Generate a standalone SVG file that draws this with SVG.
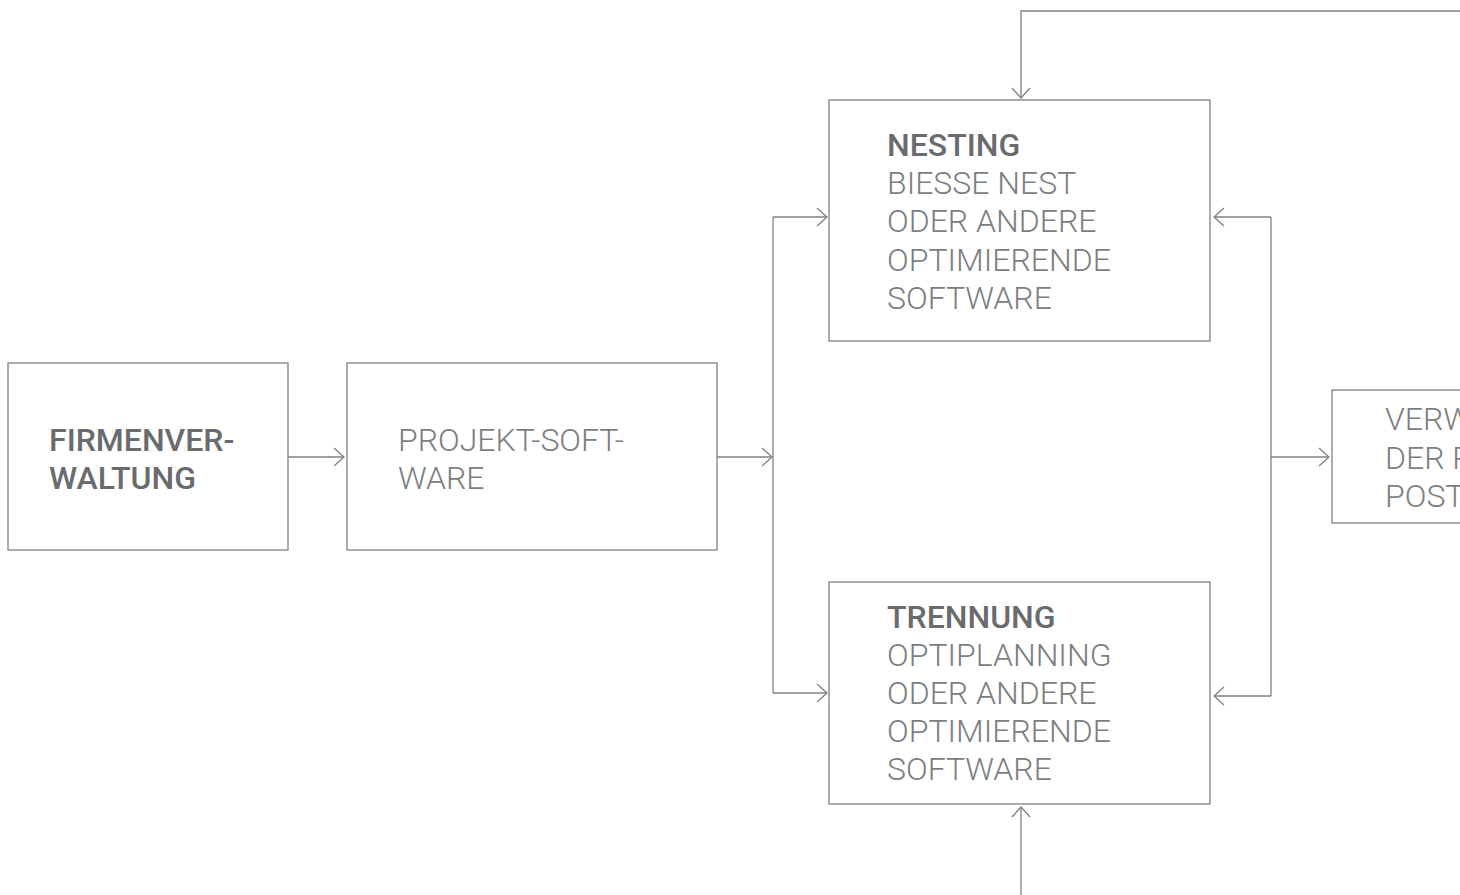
<svg xmlns="http://www.w3.org/2000/svg" width="1460" height="895" viewBox="0 0 1460 895">
<defs>
<style>
.box{fill:#fff;stroke:#808083;stroke-width:1.3}
.ln{fill:none;stroke:#808083;stroke-width:1.3}
.t{font-family:Roboto,"Liberation Sans",sans-serif;font-size:32px;font-weight:300;fill:#7d7e81}
.h{font-family:Roboto,"Liberation Sans",sans-serif;font-size:32px;font-weight:500;fill:#6a6b6e}
</style>
<marker id="ah" viewBox="0 0 12 20" markerWidth="12" markerHeight="20" refX="11" refY="10" orient="auto" markerUnits="userSpaceOnUse">
<path d="M1,1 L11,10 L1,19" fill="none" stroke="#808083" stroke-width="1.3"/>
</marker>
</defs>
<rect width="1460" height="895" fill="#fff"/>
<g id="connectors">
<line class="ln" x1="288" y1="457" x2="344" y2="457" marker-end="url(#ah)"/>
<line class="ln" x1="717" y1="457" x2="772" y2="457" marker-end="url(#ah)"/>
<polyline class="ln" points="773,217 773,693"/>
<line class="ln" x1="773" y1="217" x2="827" y2="217" marker-end="url(#ah)"/>
<line class="ln" x1="773" y1="693" x2="827" y2="693" marker-end="url(#ah)"/>
<polyline class="ln" points="1271,217 1271,696"/>
<line class="ln" x1="1271" y1="217" x2="1214" y2="217" marker-end="url(#ah)"/>
<line class="ln" x1="1271" y1="696" x2="1214" y2="696" marker-end="url(#ah)"/>
<line class="ln" x1="1271" y1="457" x2="1329" y2="457" marker-end="url(#ah)"/>
<polyline class="ln" points="1460,11 1021,11 1021,98" marker-end="url(#ah)"/>
<line class="ln" x1="1021" y1="895" x2="1021" y2="807" marker-end="url(#ah)"/>
</g>
<g id="firmenverwaltung">
<rect class="box" x="8" y="363" width="280" height="187"/>
<text class="h" x="49" y="451">FIRMENVER-</text>
<text class="h" x="49" y="489">WALTUNG</text>
</g>
<g id="projekt-software">
<rect class="box" x="347" y="363" width="370" height="187"/>
<text class="t" x="398" y="451">PROJEKT-SOFT-</text>
<text class="t" x="398" y="489">WARE</text>
</g>
<g id="nesting">
<rect class="box" x="829" y="100" width="381" height="241"/>
<text class="h" x="887" y="156">NESTING</text>
<text class="t" x="887" y="194">BIESSE NEST</text>
<text class="t" x="887" y="232">ODER ANDERE</text>
<text class="t" x="887" y="271">OPTIMIERENDE</text>
<text class="t" x="887" y="309">SOFTWARE</text>
</g>
<g id="trennung">
<rect class="box" x="829" y="582" width="381" height="222"/>
<text class="h" x="887" y="628">TRENNUNG</text>
<text class="t" x="887" y="666">OPTIPLANNING</text>
<text class="t" x="887" y="704">ODER ANDERE</text>
<text class="t" x="887" y="742">OPTIMIERENDE</text>
<text class="t" x="887" y="780">SOFTWARE</text>
</g>
<g id="verwaltung">
<rect class="box" x="1332" y="390" width="140" height="133"/>
<text class="t" x="1385" y="430">VERW</text>
<text class="t" x="1385" y="469">DER R</text>
<text class="t" x="1385" y="507">POST</text>
</g>
</svg>
